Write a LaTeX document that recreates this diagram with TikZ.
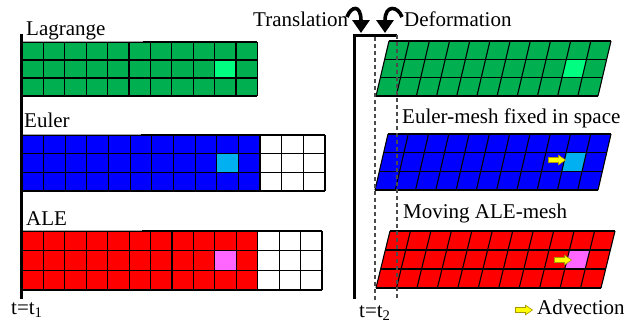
\documentclass[tikz,border=0pt]{standalone}
\usepackage{fontspec}
\setmainfont{Liberation Serif}
\usetikzlibrary{arrows.meta}
\definecolor{mgreen}{RGB}{0,176,80}
\definecolor{lgreen}{RGB}{0,255,128}
\definecolor{mblue}{RGB}{0,0,255}
\definecolor{lcyan}{RGB}{0,176,240}
\definecolor{mred}{RGB}{255,0,0}
\definecolor{lpink}{RGB}{255,102,255}
\definecolor{advy}{RGB}{255,255,0}
\definecolor{advo}{RGB}{170,150,0}
\tikzset{
  gridline/.style={black, line width=1.1pt},
  lbl/.style={font=\fontsize{21}{25}\selectfont, inner sep=0pt, anchor=base west},
  axisline/.style={black, line width=3pt},
  tline/.style={black!70, line width=1.2pt, dash pattern=on 4pt off 3pt},
  topgray/.style={gray!70, line width=1.8pt},
  curvearrow/.style={line width=3.6pt, -{Triangle[width=17pt,length=13pt]}},
  advarrow/.style={fill=advy, draw=advo, line width=0.6pt, line join=miter}
}
% x0, y0, cell width, row height, total cols, coloured cols, colour, highlight colour
\newcommand\rectgrid[8]{%
  \fill[#7] (#1,#2) rectangle ({#1+#6*#3},{#2+3*#4});
  \fill[#8] ({#1+9*#3},{#2+#4}) rectangle ({#1+10*#3},{#2+2*#4});
  \foreach \c in {0,...,#5} \draw[gridline] ({#1+\c*#3},#2) -- ({#1+\c*#3},{#2+3*#4});
  \foreach \r in {0,...,3} \draw[gridline] (#1,{#2+\r*#4}) -- ({#1+#5*#3},{#2+\r*#4});
}
% top-left x, top y, bottom-left x, bottom y, width, colour, highlight colour
\newcommand\slgrid[7]{%
  \fill[#6] (#1,#2) -- ({#1+#5},#2) -- ({#3+#5},#4) -- (#3,#4) -- cycle;
  \pgfmathsetmacro\gcw{#5/11}
  \pgfmathsetmacro\gsh{(#1-#3)/3}
  \pgfmathsetmacro\grh{(#4-#2)/3}
  \fill[#7] ({#1+9*\gcw-\gsh},{#2+\grh}) -- ({#1+10*\gcw-\gsh},{#2+\grh}) -- ({#1+10*\gcw-2*\gsh},{#2+2*\grh}) -- ({#1+9*\gcw-2*\gsh},{#2+2*\grh}) -- cycle;
  \foreach \c in {0,...,11} \draw[gridline] ({#1+\c*\gcw},#2) -- ({#3+\c*\gcw},#4);
  \foreach \r in {0,...,3} \draw[gridline] ({#1-\r*\gsh},{#2+\r*\grh}) -- ({#1+#5-\r*\gsh},{#2+\r*\grh});
}
% name, centre x, centre y : block arrow pointing right
\newcommand\yarrow[3]{%
  \coordinate (#1) at (#2,#3);
  \draw[advarrow] ([shift={(-8.5,-2.5)}]#1) -- ([shift={(1.5,-2.5)}]#1) -- ([shift={(1.5,-4.8)}]#1)
    -- ([shift={(8.5,0)}]#1) -- ([shift={(1.5,4.8)}]#1) -- ([shift={(1.5,2.5)}]#1)
    -- ([shift={(-8.5,2.5)}]#1) -- cycle;
}
\begin{document}
\begin{tikzpicture}[x=1pt,y=-1pt]
\useasboundingbox (0,0) rectangle (624,322);
\fill[white] (0,0) rectangle (624,322);

% left: grids
\rectgrid{22}{42}{21.4}{18}{11}{11}{mgreen}{lgreen}
\draw[topgray] (22,41.5) -- (143,41.5);
\rectgrid{22}{135}{21.64}{18.67}{14}{11}{mblue}{lcyan}
\draw[topgray] (22,134.5) -- (141,134.5);
\rectgrid{22}{231}{21.43}{19.67}{14}{11}{mred}{lpink}
\draw[topgray] (22,230.5) -- (142,230.5);

% left axis
\coordinate (la) at (21,34);
\coordinate (lb) at (21,299);
\draw[axisline] (la) -- (lb);

\node[lbl] (lagr) at (26,35) {Lagrange};
\node[lbl] (euler) at (24,127) {Euler};
\node[lbl] (ale) at (26,225) {ALE};
\node[lbl] (t1) at (11,314) {t=t\textsubscript{1}};

% right: grids
\slgrid{389}{41}{376}{96}{222}{mgreen}{lgreen}
\slgrid{388}{134}{375}{190}{223}{mblue}{lcyan}
\slgrid{390}{231}{376}{288}{225}{mred}{lpink}

% right axis and dashed lines
\coordinate (ra) at (354,299);
\coordinate (rb) at (354,35);
\coordinate (rc) at (397,35);
\coordinate (rd) at (397,300);
\coordinate (da) at (375,37);
\coordinate (db) at (375,300);
\draw[axisline] (ra) -- (rb) -- (rc);
\draw[tline] (rc) -- (rd);
\draw[tline] (da) -- (db);

\node[lbl] (trans) at (253,26) {Translation};
\node[lbl] (deform) at (404,26) {Deformation};
\node[lbl] (emesh) at (402,123) {Euler-mesh fixed in space};
\node[lbl] (amesh) at (403,218) {Moving ALE-mesh};
\node[lbl] (advec) at (537,314) {Advection};
\node[lbl] (t2) at (359,317) {t=t\textsubscript{2}};

% curved arrows
\coordinate (ts) at (347,17);
\coordinate (te) at (361,33);
\coordinate (ds) at (402,17);
\coordinate (de) at (385,33);
\draw[curvearrow] (ts) .. controls (351,6) and (361,4) .. (te);
\draw[curvearrow] (ds) .. controls (398,6) and (385,4) .. (de);

% advection arrows
\yarrow{ya}{557}{160}
\yarrow{yb}{563}{260}
\yarrow{yc}{524}{310}
\end{tikzpicture}
\end{document}
